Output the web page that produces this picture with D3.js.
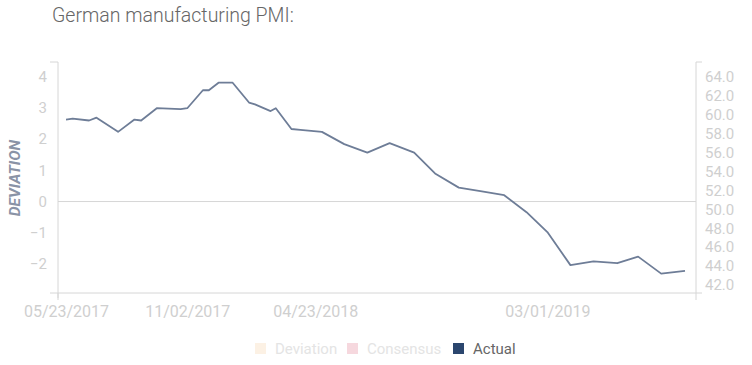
<!DOCTYPE html>
<html>
<head>
<meta charset="utf-8">
<script src="https://cdn.jsdelivr.net/npm/d3@7"></script>
<style>
  html, body { margin: 0; padding: 0; background: #fff; }
  svg { display: block; font-family: Roboto, "Noto Sans", sans-serif; }
</style>
</head>
<body>
<svg id="chart" width="752" height="365"></svg>
<script>
// release dates of the PMI prints and the value shown on the line
const dates = [
  '2017-05-23', '2017-06-01', '2017-06-23', '2017-07-03', '2017-08-01', '2017-08-23',
  '2017-09-01', '2017-09-22', '2017-10-24', '2017-11-02', '2017-11-23', '2017-12-01',
  '2017-12-14', '2018-01-02', '2018-01-24', '2018-02-01', '2018-02-22', '2018-03-01',
  '2018-03-22', '2018-04-03', '2018-05-02', '2018-06-01', '2018-07-02', '2018-08-01',
  '2018-09-03', '2018-10-01', '2018-11-02', '2018-12-03', '2019-01-02', '2019-02-01',
  '2019-03-01', '2019-04-01', '2019-05-02', '2019-06-03', '2019-07-01', '2019-08-01',
  '2019-09-02'
];
const actual = [
  59.5, 59.6, 59.4, 59.7, 58.2, 59.5,
  59.4, 60.7, 60.6, 60.7, 62.6, 62.6,
  63.4, 63.4, 61.3, 61.1, 60.4, 60.7,
  58.5, 58.4, 58.2, 56.9, 56.0, 57.0,
  56.0, 53.8, 52.3, 51.9, 51.5, 49.7,
  47.6, 44.1, 44.5, 44.3, 45.0, 43.2,
  43.5
];
const xTickLabels = ['05/23/2017', '11/02/2017', '04/23/2018', '03/01/2019'];
const leftTicks = [-2, -1, 0, 1, 2, 3, 4];
const rightTicks = [42, 44, 46, 48, 50, 52, 54, 56, 58, 60, 62, 64];
const legendItems = ['Deviation', 'Consensus', 'Actual'];
const legendColors = ['#fcf1e4', '#f6d8de', '#2b466e'];
const legendText = ['#e4e4e4', '#e4e4e4', '#666'];

const parse = d3.timeParse('%Y-%m-%d');
const parseTick = d3.timeParse('%m/%d/%Y');
const points = dates.map((d, i) => ({ date: parse(d), value: actual[i] }));

const svg = d3.select('#chart');
const plotLeft = 58, plotRight = 696, plotTop = 62, plotBottom = 293;

const x = d3.scaleTime()
  .domain([points[0].date, points[points.length - 1].date])
  .range([66, 685]);
const yLeft = d3.scaleLinear().domain([-2.93, 4.47]).range([plotBottom, plotTop]);
const yRight = d3.scaleLinear().domain([41.15, 65.59]).range([plotBottom, plotTop]);

// title
svg.append('text')
  .attr('x', 52).attr('y', 22)
  .attr('font-size', 19.5).attr('font-weight', 300)
  .attr('fill', '#666')
  .text('German manufacturing PMI:');

const axisColor = '#d6d6d6';
const labelColor = '#cfcfcf';

// zero line of the deviation axis
svg.append('line')
  .attr('x1', plotLeft).attr('x2', plotRight)
  .attr('y1', yLeft(0)).attr('y2', yLeft(0))
  .attr('stroke', axisColor).attr('stroke-width', 1);

// left axis
const gl = svg.append('g').attr('transform', `translate(${plotLeft},0)`)
  .call(d3.axisLeft(yLeft).tickValues(leftTicks).tickSize(0).tickPadding(11));
gl.select('.domain').remove();
gl.selectAll('text').attr('fill', labelColor).attr('font-size', 15)
  .attr('font-family', 'Roboto, sans-serif');
svg.append('path')
  .attr('d', `M${plotLeft - 8},${plotTop}H${plotLeft}V${plotBottom + 5}`)
  .attr('fill', 'none').attr('stroke', axisColor);

// right axis
const gr = svg.append('g').attr('transform', `translate(${plotRight},0)`)
  .call(d3.axisRight(yRight).tickValues(rightTicks).tickSize(0).tickPadding(9).tickFormat(d3.format('.1f')));
gr.select('.domain').remove();
gr.selectAll('text').attr('fill', labelColor).attr('font-size', 15)
  .attr('font-family', 'Roboto, sans-serif');
svg.append('path')
  .attr('d', `M${plotRight + 6},${plotTop}H${plotRight}V${plotBottom + 7}`)
  .attr('fill', 'none').attr('stroke', axisColor);

// bottom axis
svg.append('path')
  .attr('d', `M${plotLeft - 8},${plotBottom}H${plotRight + 6}M${plotLeft},${plotBottom}V${plotBottom + 7}`)
  .attr('fill', 'none').attr('stroke', axisColor);
const gb = svg.append('g').attr('transform', `translate(0,${plotBottom})`)
  .call(d3.axisBottom(x).tickValues(xTickLabels.map(parseTick)).tickSize(0).tickPadding(12.5)
    .tickFormat(d3.timeFormat('%m/%d/%Y')));
gb.select('.domain').remove();
gb.selectAll('text').attr('fill', labelColor).attr('font-size', 16)
  .attr('font-family', 'Roboto, sans-serif');

// axis title
svg.append('text')
  .attr('transform', 'translate(20,178) rotate(-90)')
  .attr('text-anchor', 'middle')
  .attr('font-size', 15.5).attr('font-weight', 700).attr('font-style', 'italic')
  .attr('fill', '#8a93a6')
  .text('DEVIATION');

// actual line
const line = d3.line().x((d) => x(d.date)).y((d) => yRight(d.value));
svg.append('path')
  .datum(points)
  .attr('d', line)
  .attr('fill', 'none')
  .attr('stroke', '#6e7d97')
  .attr('stroke-width', 1.8)
  .attr('stroke-linejoin', 'round');

// legend
const legendX = [255, 347, 453];
const lg = svg.append('g');
legendItems.forEach((name, i) => {
  lg.append('rect')
    .attr('x', legendX[i]).attr('y', 343)
    .attr('width', 11).attr('height', 11)
    .attr('fill', legendColors[i]);
  lg.append('text')
    .attr('x', legendX[i] + 20).attr('y', 354)
    .attr('font-size', 15)
    .attr('fill', legendText[i])
    .text(name);
});
</script>
</body>
</html>
